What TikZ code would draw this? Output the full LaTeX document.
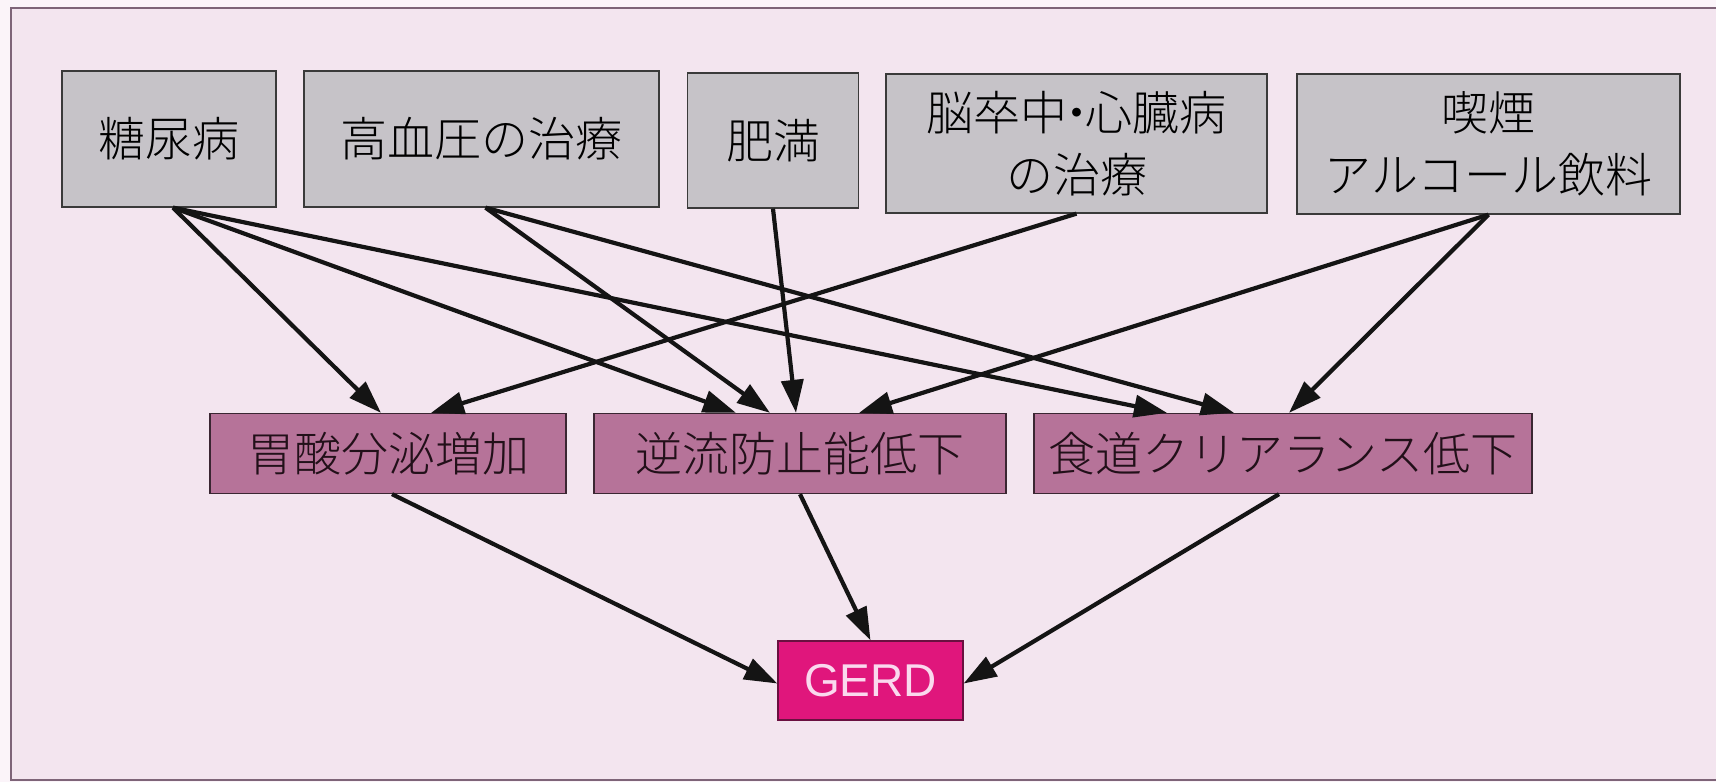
\documentclass[tikz,border=0pt]{standalone}
\usepackage{fontspec}
\setmainfont{Liberation Sans}
\newfontfamily\jp[UprightFont={* Light}]{Noto Sans CJK JP}
\usetikzlibrary{arrows.meta}
\definecolor{outerbg}{HTML}{FBF4F9}
\definecolor{bgpink}{HTML}{F3E5EF}
\definecolor{framec}{HTML}{7E6478}
\definecolor{topfill}{HTML}{C6C3C8}
\definecolor{topline}{HTML}{3A3A3A}
\definecolor{midfill}{HTML}{B67399}
\definecolor{midline}{HTML}{3A2632}
\definecolor{midtext}{HTML}{221019}
\definecolor{gerdfill}{HTML}{E0167C}
\definecolor{gerdline}{HTML}{6A1040}
\definecolor{gerdtext}{HTML}{FAD9EE}
\begin{document}
\begin{tikzpicture}[x=1pt,y=-1pt,
  topbox/.style={draw=topline, line width=1.3pt, fill=topfill, rectangle, inner sep=0pt,
    align=center, text=black, font=\jp\fontsize{47}{62}\selectfont},
  midbox/.style={draw=midline, line width=1.3pt, fill=midfill, rectangle, inner sep=0pt,
    minimum height=80pt, text=midtext, font=\jp\fontsize{47}{56}\selectfont},
  gerdbox/.style={draw=gerdline, line width=1.3pt, fill=gerdfill, rectangle, inner sep=0pt,
    minimum width=185pt, minimum height=79pt, text=gerdtext, font=\fontsize{46}{52}\selectfont},
  arr/.style={draw=black!92, line width=4.2pt, -{Triangle[length=33pt,width=22pt]}}
]
\useasboundingbox (0,0) rectangle (1716,782);
\fill[outerbg] (0,0) rectangle (1716,782);
\draw[framec, line width=1.6pt, fill=bgpink] (11,8) rectangle (1722,780);

% top row
\node[topbox, minimum width=214pt, minimum height=136pt] (dm)  at (169,139)  {糖尿病};
\node[topbox, minimum width=355pt, minimum height=136pt] (hbp) at (481.5,139) {高血圧の治療};
\node[topbox, minimum width=171pt, minimum height=135pt] (ob)  at (773,140.5) {肥満};
\node[topbox, minimum width=381pt, minimum height=139pt] (st)  at (1076.5,143.5) {脳卒中\kern-0.3em・\kern-0.3em心臓病\\の治療};
\node[topbox, minimum width=383pt, minimum height=140pt] (sm)  at (1488.5,144) {喫煙\\アルコール飲料};

% middle row
\node[midbox, minimum width=356pt] (ia) at (388,453.5)  {胃酸分泌増加};
\node[midbox, minimum width=412pt] (rf) at (800,453.5)  {逆流防止能低下};
\node[midbox, minimum width=498pt] (ec) at (1283,453.5) {食道クリアランス低下};

% GERD
\node[gerdbox] (gerd) at (870.5,680.5) {GERD};

% arrows top -> middle
\draw[arr] ([xshift=4pt]dm.south) -- ([xshift=-7pt]ia.north);
\draw[arr] ([xshift=4pt]dm.south) -- ([xshift=-64pt]rf.north);
\draw[arr] ([xshift=4pt]dm.south) -- ([xshift=-116pt]ec.north);
\draw[arr] ([xshift=4pt]hbp.south) -- ([xshift=-30pt]rf.north);
\draw[arr] ([xshift=4pt]hbp.south) -- ([xshift=-49pt]ec.north);
\draw[arr] (ob.south) -- ([xshift=-4pt]rf.north);
\draw[arr] (st.south) -- ([xshift=43pt]ia.north);
\draw[arr] (sm.south) -- ([xshift=59pt]rf.north);
\draw[arr] (sm.south) -- ([xshift=6pt]ec.north);

% arrows middle -> GERD
\draw[arr] ([xshift=4pt]ia.south) -- ([yshift=-3pt]gerd.west);
\draw[arr] (rf.south) -- (gerd.north);
\draw[arr] ([xshift=-4pt]ec.south) -- ([yshift=-3pt]gerd.east);
\end{tikzpicture}
\end{document}
